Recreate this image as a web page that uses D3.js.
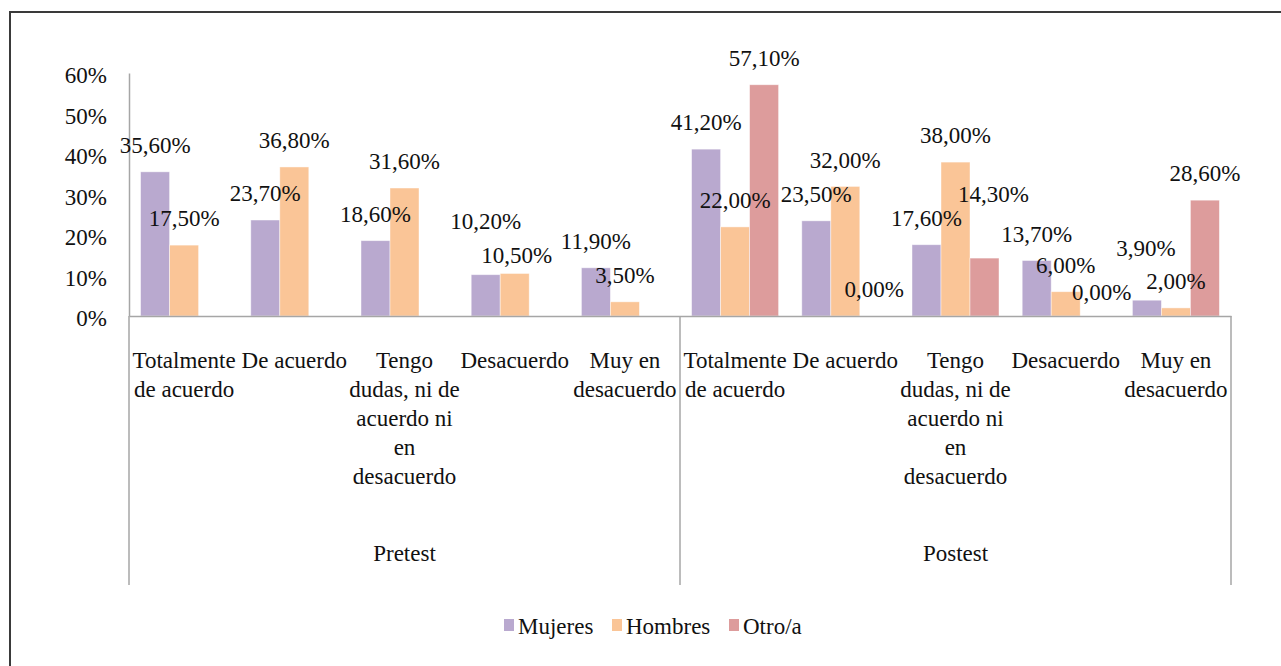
<!DOCTYPE html>
<html>
<head>
<meta charset="utf-8">
<script src="https://cdn.jsdelivr.net/npm/d3@7"></script>
<style>
  html, body { margin: 0; padding: 0; background: #fff; }
  svg { display: block; }
  text { font-family: "Liberation Serif", "Times New Roman", serif; fill: #111; }
</style>
</head>
<body>
<svg id="chart" width="1281" height="666"></svg>
<script>
// ---- Data ----
const groups = ["Pretest", "Postest"];
const categories = ["Totalmente de acuerdo", "De acuerdo", "Tengo dudas, ni de acuerdo ni en desacuerdo", "Desacuerdo", "Muy en desacuerdo"];
const categoryLines = [
  ["Totalmente", "de acuerdo"],
  ["De acuerdo"],
  ["Tengo", "dudas, ni de", "acuerdo ni", "en", "desacuerdo"],
  ["Desacuerdo"],
  ["Muy en", "desacuerdo"]
];
const series = ["Mujeres", "Hombres", "Otro/a"];
const seriesColors = ["#B9A9CF", "#FAC597", "#DD9C9C"];
const pretestMujeres = [0.356, 0.237, 0.186, 0.102, 0.119];
const pretestHombres = [0.175, 0.368, 0.316, 0.105, 0.035];
const pretestOtro    = [null, null, null, null, null];
const postestMujeres = [0.412, 0.235, 0.176, 0.137, 0.039];
const postestHombres = [0.220, 0.320, 0.380, 0.060, 0.020];
const postestOtro    = [0.571, 0.000, 0.143, 0.000, 0.286];
const yTicks = [0, 0.1, 0.2, 0.3, 0.4, 0.5, 0.6];

const valuesByGroup = {
  "Pretest": [pretestMujeres, pretestHombres, pretestOtro],
  "Postest": [postestMujeres, postestHombres, postestOtro]
};

// label placement nudges (as in the reference, keyed group|category|series): [dx, rise above bar]
const labelNudges = {
  "Pretest|3|0": [0, 54],
  "Pretest|3|1": [2, 19],
  "Postest|2|2": [9, 64],
  "Postest|3|2": [7, 24],
  "Postest|4|0": [-1, 52]
};
const defaultRise = 27;

// ---- Layout ----
const svg = d3.select("#chart");
const FS = 23;
const plotLeft = 129, plotRight = 1231, plotTop = 73, plotBottom = 316;

// outer frame (only top & left visible)
svg.append("rect").attr("x", 10).attr("y", 12).attr("width", 1400).attr("height", 800)
  .attr("fill", "none").attr("stroke", "#3a3a3a").attr("stroke-width", 2);

const y = d3.scaleLinear().domain([0, 0.6]).range([plotBottom, plotTop]);

const keys = [];
groups.forEach(g => categories.forEach((c, i) => keys.push(g + "|" + i)));
const x0 = d3.scaleBand().domain(keys).range([plotLeft, plotRight]).padding(0);
const bw = x0.bandwidth();
const barW = bw / 3.8;
const x1 = d3.scaleBand().domain(series).range([barW * 0.4, bw - barW * 0.4]).padding(0);

const locale = d3.formatLocale({ decimal: ",", thousands: ".", grouping: [3], currency: ["", "€"] });
const fmtLabel = locale.format(".2%");
const fmtTick = locale.format(".0%");

// y axis
const yAxis = d3.axisLeft(y).tickValues(yTicks).tickFormat(fmtTick).tickSize(0).tickPadding(22);
const gy = svg.append("g").attr("transform", `translate(${plotLeft},0)`).call(yAxis);
gy.select(".domain").attr("stroke", "#A6A6A6").attr("stroke-width", 1.5);
gy.selectAll("text").attr("font-size", FS).attr("fill", "#111").attr("dy", "0.42em");

// bars
const barData = [];
groups.forEach(g => {
  categories.forEach((c, i) => {
    series.forEach((s, si) => {
      const v = valuesByGroup[g][si][i];
      if (v !== null) barData.push({ key: g + "|" + i, id: g + "|" + i + "|" + si, s, si, v });
    });
  });
});

svg.append("g").selectAll("rect").data(barData).join("rect")
  .attr("x", d => x0(d.key) + x1(d.s))
  .attr("y", d => y(d.v))
  .attr("width", x1.bandwidth())
  .attr("height", d => y(0) - y(d.v))
  .attr("fill", d => seriesColors[d.si])
  .attr("stroke", "rgba(255,255,255,0.55)")
  .attr("stroke-width", 0.8);

// x axis baseline
const xAxis = d3.axisBottom(x0).tickSize(0).tickFormat("");
const gx = svg.append("g").attr("transform", `translate(0,${plotBottom})`).call(xAxis);
gx.select(".domain").attr("stroke", "#A6A6A6").attr("stroke-width", 1.5);

// group separators
const sepX = [plotLeft, x0(groups[1] + "|0"), plotRight];
svg.append("g").selectAll("line").data(sepX).join("line")
  .attr("x1", d => d).attr("x2", d => d)
  .attr("y1", plotBottom).attr("y2", 585)
  .attr("stroke", "#A6A6A6").attr("stroke-width", 1.5);

// data labels
svg.append("g").selectAll("text").data(barData).join("text")
  .attr("x", d => x0(d.key) + x1(d.s) + x1.bandwidth() / 2 + (labelNudges[d.id] ? labelNudges[d.id][0] : 0))
  .attr("y", d => y(d.v) - (labelNudges[d.id] ? labelNudges[d.id][1] : defaultRise))
  .attr("dy", "0.36em")
  .attr("text-anchor", "middle")
  .attr("font-size", FS)
  .text(d => fmtLabel(d.v));

// category labels
groups.forEach(g => {
  categories.forEach((c, i) => {
    const cx = x0(g + "|" + i) + bw / 2;
    const t = svg.append("text").attr("text-anchor", "middle").attr("font-size", FS);
    categoryLines[i].forEach((line, li) => {
      t.append("tspan").attr("x", cx).attr("y", 360 + li * 29).attr("dy", "0.36em").text(line);
    });
  });
});

// group labels
groups.forEach(g => {
  const gx0 = x0(g + "|0");
  const gx1 = x0(g + "|" + (categories.length - 1)) + bw;
  svg.append("text").attr("x", (gx0 + gx1) / 2).attr("y", 553).attr("dy", "0.36em")
    .attr("text-anchor", "middle").attr("font-size", FS).text(g);
});

// legend
const legendX = [504, 612, 729];
const lg = svg.append("g");
series.forEach((s, i) => {
  lg.append("rect").attr("x", legendX[i]).attr("y", 619).attr("width", 10).attr("height", 12)
    .attr("fill", seriesColors[i]);
  lg.append("text").attr("x", legendX[i] + 14).attr("y", 626).attr("dy", "0.36em")
    .attr("font-size", FS).text(s);
});
</script>
</body>
</html>
